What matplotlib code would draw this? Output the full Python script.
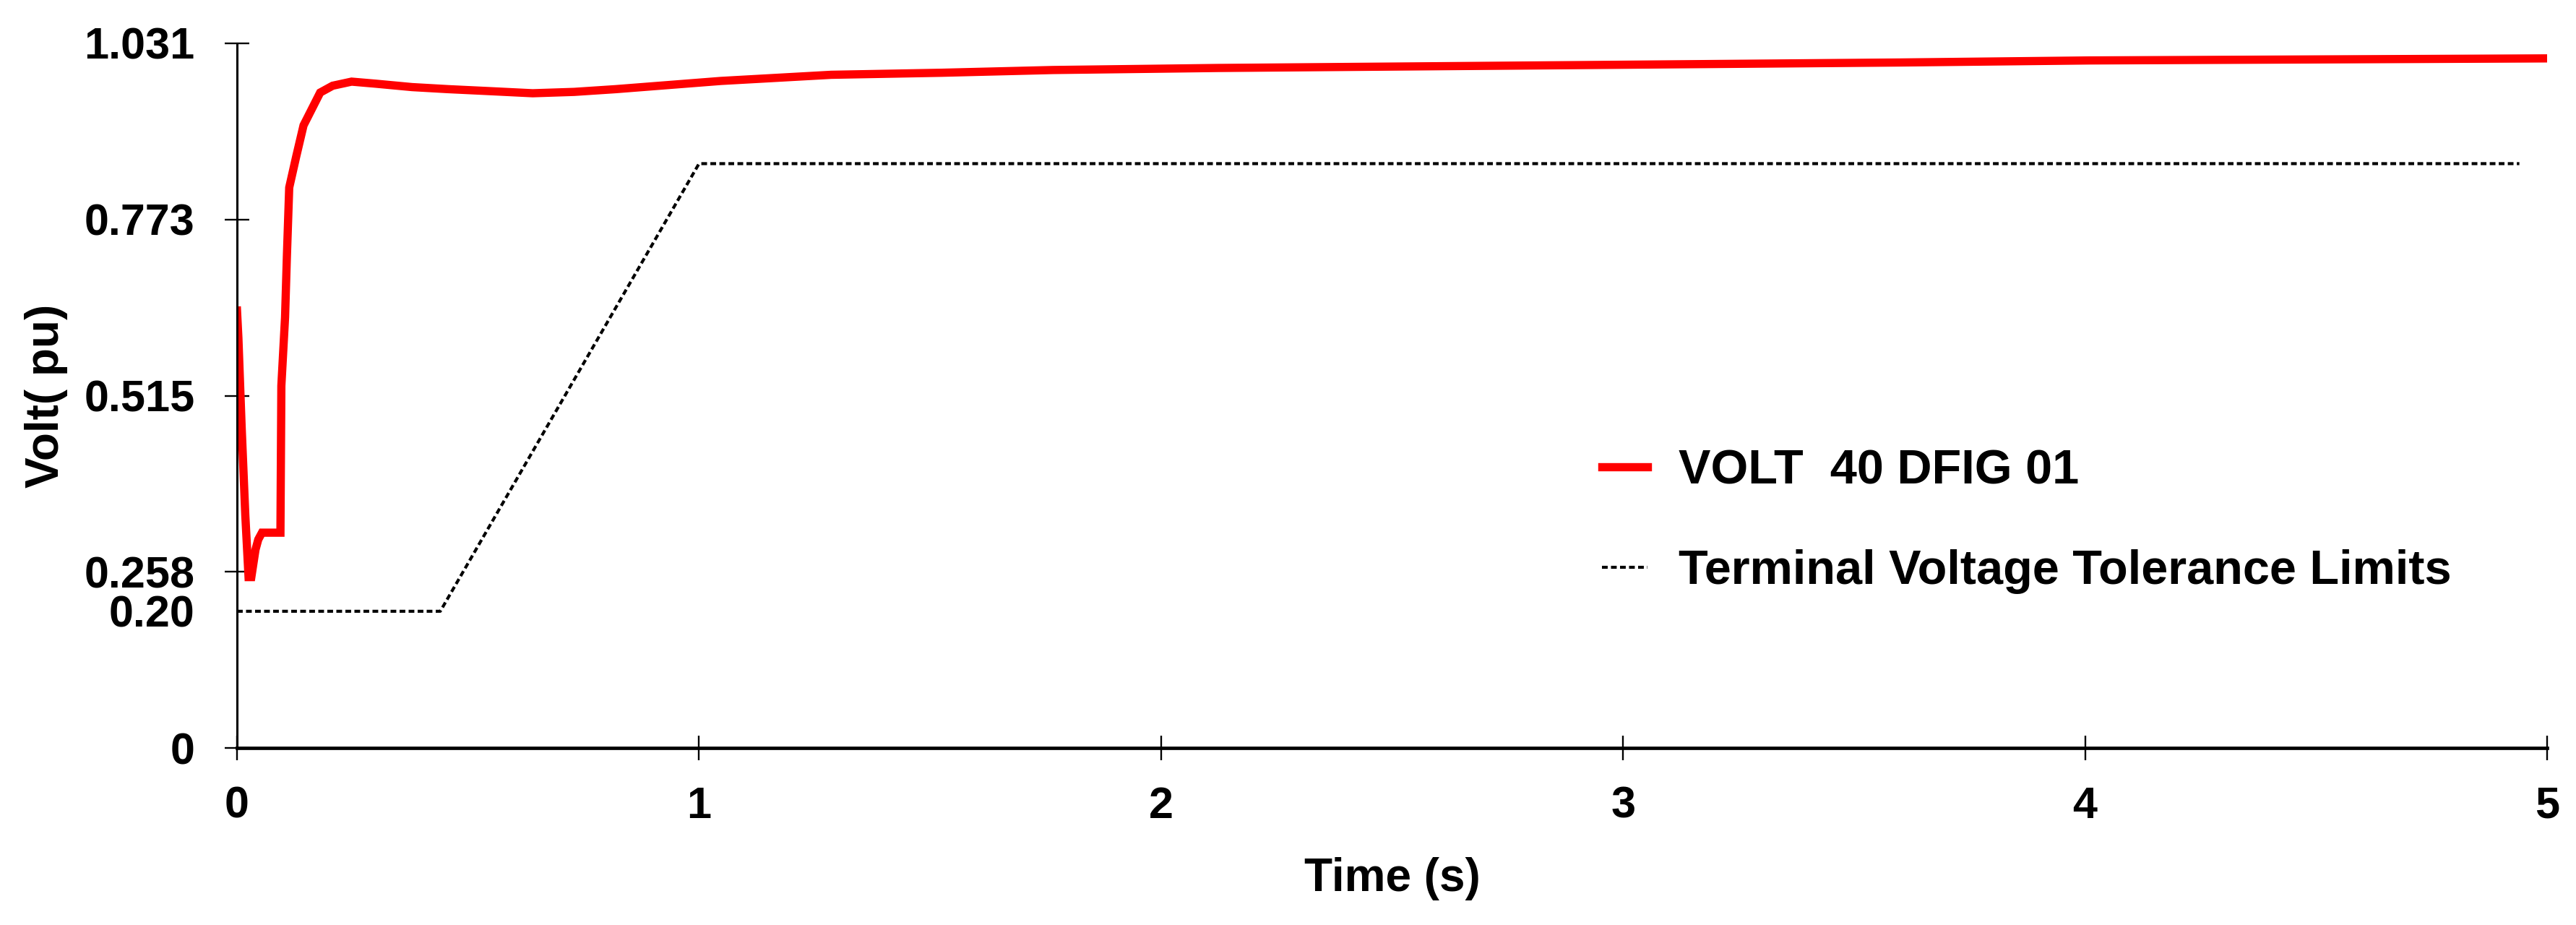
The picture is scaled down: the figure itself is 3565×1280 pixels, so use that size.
import matplotlib
matplotlib.use("Agg")
import matplotlib.pyplot as plt

# ---- data --------------------------------------------------------------------
# terminal voltage of bus 40 (DFIG 01), pu
volt_t = [0.0, 0.003, 0.010, 0.018, 0.025, 0.031, 0.040, 0.046, 0.054,
          0.094, 0.096, 0.104, 0.108, 0.113, 0.128, 0.144, 0.165, 0.180,
          0.207, 0.248, 0.300, 0.379, 0.457, 0.550, 0.640, 0.730, 0.820,
          1.047, 1.286, 1.526, 1.766, 2.125, 2.870, 3.600, 4.010, 5.000]
volt_v = [0.640, 0.600, 0.470, 0.340, 0.250, 0.250, 0.290, 0.305, 0.315,
          0.315, 0.530, 0.630, 0.720, 0.820, 0.865, 0.911, 0.939, 0.959,
          0.969, 0.975, 0.972, 0.967, 0.964, 0.961, 0.958, 0.960, 0.964,
          0.976, 0.985, 0.988, 0.992, 0.995, 0.999, 1.003, 1.006, 1.009]

# terminal voltage tolerance limits (LVRT envelope)
limit_t = [0.0, 0.44, 1.0, 4.94]
limit_v = [0.20, 0.20, 0.855, 0.855]

xticks = [0, 1, 2, 3, 4, 5]
yticks = [0, 0.20, 0.258, 0.515, 0.773, 1.031]
ytick_labels = ["0", "0.20", "0.258", "0.515", "0.773", "1.031"]

plt.rcParams["font.family"] = ["Liberation Sans", "DejaVu Sans"]
plt.rcParams["font.weight"] = "bold"

W, H, DPI = 3565, 1280, 100
fig = plt.figure(figsize=(W / DPI, H / DPI), dpi=DPI)
ax = fig.add_axes([328 / W, 1 - 1035 / H, (3525 - 328) / W, (1035 - 60) / H])

ax.plot(volt_t, volt_v, color="#ff0000", lw=8.2, solid_joinstyle="miter",
        label="VOLT  40 DFIG 01")
ax.plot(limit_t, limit_v, color="black", lw=3.0, ls=(0, (1.9, 1.1)),
        label="Terminal Voltage Tolerance Limits")

ax.set_xlim(0, 5)
ax.set_ylim(0, 1.031)
ax.set_xticks(xticks)
ax.set_yticks(yticks)
ax.set_yticklabels(ytick_labels)
# the 0.20 level is labelled but carries no tick mark
ax.yaxis.get_major_ticks()[1].tick1line.set_visible(False)

for s in ("top", "right"):
    ax.spines[s].set_visible(False)
ax.spines["left"].set_linewidth(2.2)
ax.spines["bottom"].set_linewidth(3.4)
ax.tick_params(axis="both", direction="inout", length=24, width=1.7,
               labelsize=44, colors="black")
ax.tick_params(axis="y", pad=30)
ax.tick_params(axis="x", pad=26)

ax.set_xlabel("Time (s)", fontsize=46, fontweight="bold", labelpad=30)
ax.set_ylabel("Volt( pu)", fontsize=46, fontweight="bold", labelpad=16)

ax.legend(loc="upper left", bbox_to_anchor=(2190 / W, 1 - 595 / H),
          bbox_transform=fig.transFigure, frameon=False, fontsize=48,
          handlelength=0.95, handletextpad=0.65, labelspacing=1.15,
          borderaxespad=0)

fig.savefig("out.png", dpi=DPI)
